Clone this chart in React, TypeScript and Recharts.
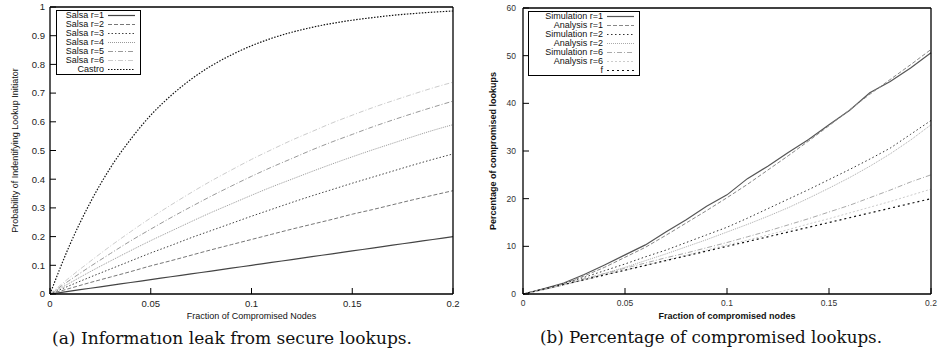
import React from 'react';
import { LineChart, Line, XAxis, YAxis, Legend } from 'recharts';

// fraction of compromised nodes (x for both panels)
const fraction = [0, 0.01, 0.02, 0.03, 0.04, 0.05, 0.06, 0.07, 0.08, 0.09, 0.1, 0.11, 0.12, 0.13, 0.14, 0.15, 0.16, 0.17, 0.18, 0.19, 0.2];

// (a) probability of identifying lookup initiator
const salsa1 = [0, 0.01, 0.02, 0.03, 0.04, 0.05, 0.06, 0.07, 0.08, 0.09, 0.1, 0.11, 0.12, 0.13, 0.14, 0.15, 0.16, 0.17, 0.18, 0.19, 0.2];
const salsa2 = [0, 0.02, 0.04, 0.059, 0.078, 0.098, 0.116, 0.135, 0.154, 0.172, 0.19, 0.208, 0.226, 0.243, 0.26, 0.278, 0.294, 0.311, 0.328, 0.344, 0.36];
const salsa3 = [0, 0.03, 0.059, 0.087, 0.115, 0.143, 0.169, 0.196, 0.221, 0.246, 0.271, 0.295, 0.319, 0.342, 0.364, 0.386, 0.407, 0.428, 0.449, 0.469, 0.488];
const salsa4 = [0, 0.039, 0.078, 0.115, 0.151, 0.186, 0.219, 0.252, 0.284, 0.314, 0.344, 0.373, 0.4, 0.427, 0.453, 0.478, 0.502, 0.525, 0.548, 0.57, 0.59];
const salsa5 = [0, 0.049, 0.096, 0.141, 0.185, 0.226, 0.266, 0.304, 0.341, 0.376, 0.41, 0.442, 0.472, 0.502, 0.53, 0.556, 0.582, 0.606, 0.629, 0.651, 0.672];
const salsa6 = [0, 0.059, 0.114, 0.167, 0.217, 0.265, 0.31, 0.353, 0.394, 0.432, 0.469, 0.503, 0.536, 0.566, 0.596, 0.623, 0.649, 0.673, 0.696, 0.718, 0.738];
const castro = [0, 0.174, 0.319, 0.44, 0.539, 0.623, 0.691, 0.748, 0.795, 0.833, 0.865, 0.891, 0.912, 0.929, 0.943, 0.954, 0.963, 0.971, 0.977, 0.982, 0.986];

// (b) percentage of compromised lookups
const sim1 = [0, 1.1, 2.3, 4.1, 6.1, 8.2, 10.3, 13.0, 15.6, 18.4, 20.8, 24.2, 26.8, 29.7, 32.4, 35.5, 38.5, 42.2, 44.6, 47.4, 50.6];
const ana1 = [0, 1.0, 2.2, 3.8, 5.6, 7.7, 9.8, 12.3, 14.9, 17.5, 20.2, 23.0, 26.0, 29.0, 32.1, 35.3, 38.6, 41.9, 45.0, 48.1, 51.3];
const sim2 = [0, 1.0, 2.2, 3.5, 4.9, 6.3, 7.8, 9.2, 10.8, 12.4, 14.0, 15.9, 17.9, 19.9, 21.9, 24.0, 26.1, 28.3, 30.6, 33.5, 36.4];
const ana2 = [0, 0.9, 1.9, 3.0, 4.3, 5.6, 7.0, 8.4, 9.9, 11.4, 13.0, 14.6, 16.3, 18.1, 20.1, 22.2, 24.4, 26.8, 29.4, 32.3, 35.5];
const sim6 = [0, 0.9, 2.0, 3.2, 4.3, 5.4, 6.5, 7.6, 8.6, 9.7, 10.8, 12.0, 13.2, 14.5, 15.8, 17.2, 18.6, 20.2, 21.8, 23.5, 25.0];
const ana6 = [0, 0.9, 1.9, 2.9, 4.0, 5.0, 6.0, 7.1, 8.1, 9.2, 10.3, 11.3, 12.4, 13.5, 14.7, 15.8, 17.0, 18.2, 19.4, 20.7, 22.0];
const fLine = [0, 1, 2, 3, 4, 5, 6, 7, 8, 9, 10, 11, 12, 13, 14, 15, 16, 17, 18, 19, 20];

const xTicks = [0, 0.05, 0.1, 0.15, 0.2];
const yTicksA = [0, 0.1, 0.2, 0.3, 0.4, 0.5, 0.6, 0.7, 0.8, 0.9, 1];
const yTicksB = [0, 10, 20, 30, 40, 50, 60];

const FONT = '"Liberation Sans", Arial, Helvetica, sans-serif';

type Series = { key: string; name: string; values: number[]; stroke: string; dash?: string; width?: number };

const seriesA: Series[] = [
  { key: 's1', name: 'Salsa r=1', values: salsa1, stroke: '#444', width: 1.2 },
  { key: 's2', name: 'Salsa r=2', values: salsa2, stroke: '#777', dash: '4 2' },
  { key: 's3', name: 'Salsa r=3', values: salsa3, stroke: '#444', dash: '1.5 2' },
  { key: 's4', name: 'Salsa r=4', values: salsa4, stroke: '#999', dash: '1 1' },
  { key: 's5', name: 'Salsa r=5', values: salsa5, stroke: '#999', dash: '5 2 1 2' },
  { key: 's6', name: 'Salsa r=6', values: salsa6, stroke: '#ccc', dash: '5 2 1 2' },
  { key: 'castro', name: 'Castro', values: castro, stroke: '#111', dash: '1.5 1.5', width: 1.2 },
];

const seriesB: Series[] = [
  { key: 'sim1', name: 'Simulation r=1', values: sim1, stroke: '#555', width: 1.2 },
  { key: 'ana1', name: 'Analysis r=1', values: ana1, stroke: '#888', dash: '4 2' },
  { key: 'sim2', name: 'Simulation r=2', values: sim2, stroke: '#333', dash: '1.5 2.5' },
  { key: 'ana2', name: 'Analysis r=2', values: ana2, stroke: '#aaa', dash: '1 1' },
  { key: 'sim6', name: 'Simulation r=6', values: sim6, stroke: '#aaa', dash: '5 2 1 2' },
  { key: 'ana6', name: 'Analysis r=6', values: ana6, stroke: '#ccc', dash: '2 2' },
  { key: 'fline', name: 'f', values: fLine, stroke: '#111', dash: '2 3', width: 1.2 },
];

const buildRows = (series: Series[]) =>
  fraction.map((frac, i) => {
    const row: any = { frac };
    series.forEach((s) => {
      row[s.key] = s.values[i];
    });
    return row;
  });

const LegendBox = ({ series, textWidth }: { series: Series[]; textWidth: number }) => (
  <div style={{ border: '1.5px solid #000', background: '#fff', paddingRight: 5, fontFamily: FONT, fontSize: 9, lineHeight: '9px' }}>
    {series.map((s) => (
      <div key={s.key} style={{ display: 'flex', alignItems: 'center', height: 9 }}>
        <span style={{ width: textWidth, textAlign: 'right', color: '#111', whiteSpace: 'nowrap' }}>{s.name}</span>
        <svg width={31} height={9} style={{ display: 'block' }}>
          <line x1={4} x2={31} y1={4.5} y2={4.5} stroke={s.stroke} strokeDasharray={s.dash} strokeWidth={s.width ?? 1} />
        </svg>
      </div>
    ))}
  </div>
);

interface PanelProps {
  series: Series[];
  width: number;
  margin: { top: number; right: number; left: number; bottom: number };
  yDomain: [number, number];
  yTicks: number[];
  yWidth: number;
  yTickMargin: number;
  yTitle: string;
  yTitleOffset: number;
  xTitle: string;
  bold: boolean;
  tickFont: number;
  tickFill: string;
  curve: 'monotone' | 'linear';
  legendPos: { left: number; top: number };
  legendTextWidth: number;
}

const Panel: React.FC<PanelProps> = (p) => {
  const titleStyle = { fontFamily: FONT, fontSize: 9, fill: '#111', fontWeight: p.bold ? 700 : 400 };
  const tickStyle = { fontFamily: FONT, fontSize: p.tickFont, fill: p.tickFill };
  return (
    <LineChart width={p.width} height={352} data={buildRows(p.series)} margin={p.margin}>
      <XAxis
        dataKey="frac"
        type="number"
        domain={[0, 0.2]}
        ticks={xTicks}
        interval={0}
        height={30}
        tickSize={-6}
        tickMargin={12}
        tick={tickStyle}
        axisLine={{ stroke: '#000', strokeWidth: 1.3 }}
        tickLine={{ stroke: '#000' }}
        label={{ value: p.xTitle, position: 'insideBottom', offset: 5, style: { ...titleStyle, textAnchor: 'middle' } }}
      />
      <XAxis
        xAxisId="top"
        orientation="top"
        type="number"
        domain={[0, 0.2]}
        ticks={xTicks}
        interval={0}
        height={1}
        tickSize={-6}
        tick={false}
        axisLine={{ stroke: '#000', strokeWidth: 1.3 }}
        tickLine={{ stroke: '#000' }}
      />
      <YAxis
        type="number"
        domain={p.yDomain}
        ticks={p.yTicks}
        interval={0}
        width={p.yWidth}
        tickSize={-6}
        tickMargin={p.yTickMargin}
        tick={tickStyle}
        axisLine={{ stroke: '#000', strokeWidth: 1.3 }}
        tickLine={{ stroke: '#000' }}
        label={{ value: p.yTitle, angle: -90, position: 'insideLeft', offset: p.yTitleOffset, style: { ...titleStyle, textAnchor: 'middle' } }}
      />
      <YAxis
        yAxisId="right"
        orientation="right"
        type="number"
        domain={p.yDomain}
        ticks={p.yTicks}
        interval={0}
        width={1}
        tickSize={-6}
        tick={false}
        axisLine={{ stroke: '#000', strokeWidth: 1.3 }}
        tickLine={{ stroke: '#000' }}
      />
      <Legend
        layout="vertical"
        align="center"
        verticalAlign="middle"
        wrapperStyle={{ left: p.legendPos.left, top: p.legendPos.top, width: 'auto' }}
        content={() => <LegendBox series={p.series} textWidth={p.legendTextWidth} />}
      />
      {p.series.map((s) => (
        <Line
          key={s.key}
          type={p.curve}
          dataKey={s.key}
          name={s.name}
          stroke={s.stroke}
          strokeDasharray={s.dash}
          strokeWidth={s.width ?? 1}
          dot={false}
          activeDot={false}
          isAnimationActive={false}
        />
      ))}
    </LineChart>
  );
};

export default function App() {
  return (
    <div style={{ position: 'absolute', left: 0, top: 0, width: 938, height: 352, background: '#fff', overflow: 'hidden' }}>
      <div style={{ position: 'absolute', left: 0, top: 0 }}>
        <Panel
          series={seriesA}
          width={470}
          margin={{ top: 6, right: 16, left: 0, bottom: 28 }}
          yDomain={[0, 1]}
          yTicks={yTicksA}
          yWidth={50}
          yTickMargin={11}
          yTitle="Probability of Indentifying Lookup Initiator"
          yTitleOffset={15}
          xTitle="Fraction of Compromised Nodes"
          bold={false}
          tickFont={9.5}
          tickFill="#222"
          curve="monotone"
          legendPos={{ left: 56, top: 10 }}
          legendTextWidth={47}
        />
      </div>
      <div style={{ position: 'absolute', left: 470, top: 0 }}>
        <Panel
          series={seriesB}
          width={468}
          margin={{ top: 7, right: 6, left: 0, bottom: 28 }}
          yDomain={[0, 60]}
          yTicks={yTicksB}
          yWidth={53}
          yTickMargin={13}
          yTitle="Percentage of compromised lookups"
          yTitleOffset={23}
          xTitle="Fraction of compromised nodes"
          bold={true}
          tickFont={8.5}
          tickFill="#333"
          curve="linear"
          legendPos={{ left: 58, top: 11 }}
          legendTextWidth={74}
        />
      </div>
      <svg width={938} height={352} style={{ position: 'absolute', left: 0, top: 0, pointerEvents: 'none' }}>
        <text x={52} y={344} fontFamily='"DejaVu Serif", serif' fontSize={17} fill="#111" textLength={360} lengthAdjust="spacingAndGlyphs">
          (a) Informatıon leak from secure lookups.
        </text>
        <text x={540} y={343} fontFamily='"DejaVu Serif", serif' fontSize={17} fill="#111" textLength={342} lengthAdjust="spacingAndGlyphs">
          (b) Percentage of compromised lookups.
        </text>
      </svg>
    </div>
  );
}
